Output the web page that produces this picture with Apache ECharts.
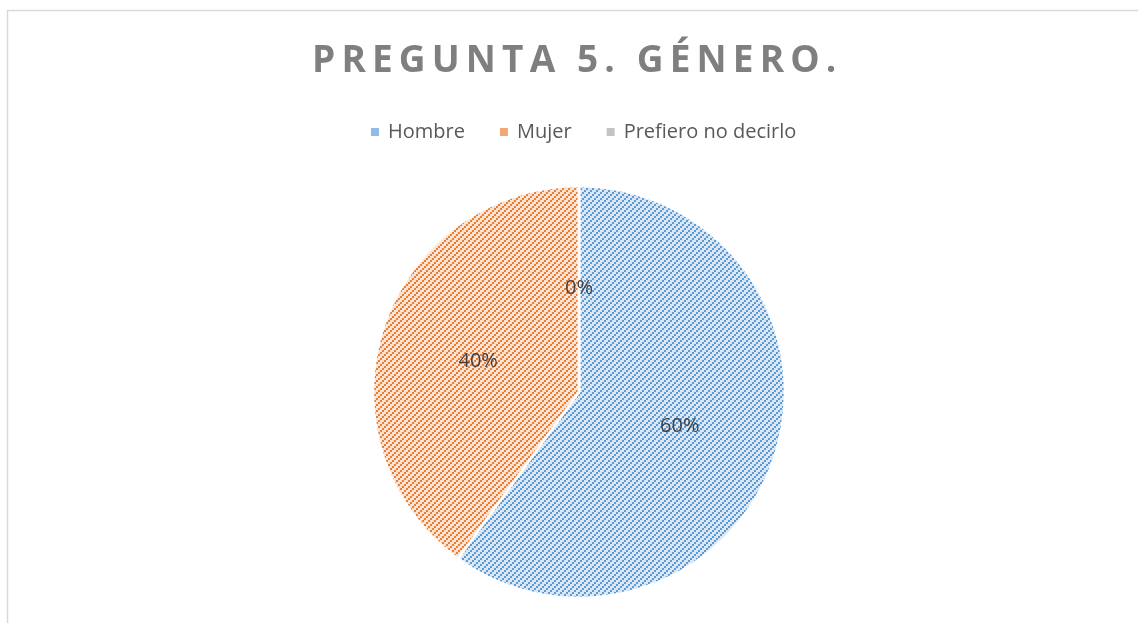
<!DOCTYPE html>
<html>
<head>
<meta charset="utf-8">
<script src="https://cdn.jsdelivr.net/npm/echarts@6/dist/echarts.min.js"></script>
<style>
  html, body { margin: 0; padding: 0; background: #fff; }
  #pieChart { width: 1138px; height: 623px; }
</style>
</head>
<body>
<div id="pieChart"></div>
<script>
// datos de la gráfica
const categorias = ["Hombre", "Mujer", "Prefiero no decirlo"]
const valores = [60, 40, 0]
const colores = ["#5b9bd5", "#ed7d31", "#a5a5a5"]
const fondos = ["#dbe7f5", "#fce3d4", "#ececec"]
const iconos = ["#8fbbe6", "#f3a774", "#c4c4c4"]

// trama diagonal tipo Excel (escalones de 2px hacia arriba)
const makePattern = (fg, bg) => {
  const c = document.createElement("canvas")
  c.width = 6
  c.height = 6
  const ctx = c.getContext("2d")
  ctx.fillStyle = bg
  ctx.fillRect(0, 0, 6, 6)
  ctx.fillStyle = fg
  for (let j = 0; j < 3; j++) {
    for (let i = 0; i < 3; i++) {
      if ((i + j) % 3 === 0) ctx.fillRect(i * 2, j * 2, 2, 2)
    }
  }
  return { image: c, repeat: "repeat" }
}

const pieData = categorias.map((name, i) => ({
  name: name,
  value: valores[i],
  itemStyle: { color: makePattern(colores[i], fondos[i]) }
}))

const chart = echarts.init(document.getElementById("pieChart"))
chart.setOption({
  animation: false,
  title: {
    text: "P\u2009R\u2009E\u2009G\u2009U\u2009N\u2009T\u2009A\u2009 \u20095\u2009.\u2009 \u2009G\u2009É\u2009N\u2009E\u2009R\u2009O\u2009.",
    left: 307,
    top: 38,
    textStyle: {
      fontFamily: "Open Sans",
      fontWeight: "bold",
      fontSize: 37,
      color: "#7f7f7f"
    }
  },
  legend: {
    top: 117,
    left: 364,
    icon: "rect",
    itemWidth: 10,
    itemHeight: 10,
    itemGap: 33,
    textStyle: {
      fontFamily: "Open Sans",
      fontSize: 20,
      color: "#595959",
      padding: [0, 0, 0, 3]
    },
    data: categorias.map((name, i) => ({ name: name, itemStyle: { color: iconos[i] } }))
  },
  graphic: [
    {
      type: "polyline",
      shape: { points: [[7.5, 640], [7.5, 10.5], [1150, 10.5]] },
      style: { stroke: "#d9d9d9", lineWidth: 1.5, fill: null }
    }
  ],
  series: [
    {
      type: "pie",
      center: [579, 392],
      radius: 206,
      startAngle: 90,
      clockwise: true,
      itemStyle: { borderColor: "#ffffff", borderWidth: 2.5 },
      label: {
        show: true,
        position: "inside",
        formatter: "{d}%",
        fontFamily: "Open Sans",
        fontSize: 20,
        color: "#404040",
        offset: [0, 2]
      },
      labelLine: { show: false },
      emphasis: { disabled: true },
      data: pieData
    }
  ]
})
</script>
</body>
</html>
